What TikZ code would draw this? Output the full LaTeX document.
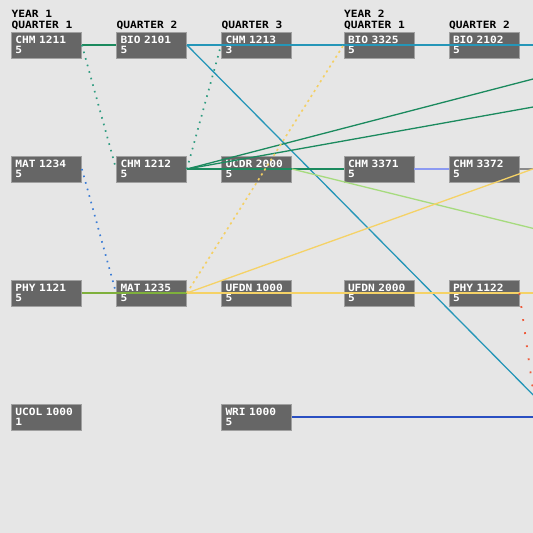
\documentclass[tikz,border=0pt]{standalone}
\usepackage{fontspec}
\newfontfamily\pixfont{DejaVu Sans Mono}[FakeStretch=1.12]
\definecolor{bggray}{HTML}{E6E6E6}
\definecolor{boxgray}{HTML}{666666}
\definecolor{boxedge}{HTML}{A0A0A0}
\definecolor{chemgreen}{HTML}{1B8A5E}
\definecolor{tealdot}{HTML}{2E9C80}
\definecolor{bioblue}{HTML}{2596B8}
\definecolor{peri}{HTML}{8C9AF2}
\definecolor{linegray}{HTML}{8A8A8A}
\definecolor{lime}{HTML}{A6DB7E}
\definecolor{bluedot}{HTML}{3A7CD6}
\definecolor{olive}{HTML}{7FB03C}
\definecolor{gold}{HTML}{F5D266}
\definecolor{golddot}{HTML}{F4CF62}
\definecolor{reddot}{HTML}{EE5A3A}
\definecolor{wriblue}{HTML}{2A4FC2}
\begin{document}
\begin{tikzpicture}[x=1pt,y=-1pt,
    course/.style={draw=boxedge,fill=boxgray,text=white,line width=0.8pt,
      font=\pixfont\bfseries\fontsize{10}{10.5}\selectfont,align=left,
      text width=62pt,inner xsep=4pt,inner ysep=0pt,minimum height=26pt},
    head/.style={font=\pixfont\bfseries\fontsize{10}{10.5}\selectfont,
      anchor=base west,inner sep=0pt},
    link/.style={line width=1.3pt},
    dotlink/.style={line width=1.7pt,dash pattern=on 1.6pt off 5.2pt},
    golddots/.style={golddot,line width=1.6pt,dash pattern=on 2.2pt off 3.6pt},
    reddots/.style={reddot,line width=1.8pt,dash pattern=on 1.8pt off 11.4pt}]
\useasboundingbox (0,0) rectangle (533,533);
\fill[bggray] (0,0) rectangle (533,533);
\clip (0,0) rectangle (533,533);
% headers
\node[head] (y1) at (11.5,17.5) {YEAR 1};
\node[head] (y1q1) at (11.5,28) {QUARTER 1};
\node[head] (y1q2) at (116.5,28) {QUARTER 2};
\node[head] (y1q3) at (221.5,28) {QUARTER 3};
\node[head] (y2) at (344,17.5) {YEAR 2};
\node[head] (y2q1) at (344,28) {QUARTER 1};
\node[head] (y2q2) at (449,28) {QUARTER 2};
% courses
\node[course] (chm1211) at (46.5,45) {CHM 1211\\5};
\node[course] (bio2101) at (151.5,45) {BIO 2101\\5};
\node[course] (chm1213) at (256.5,45) {CHM 1213\\3};
\node[course] (bio3325) at (379,45) {BIO 3325\\5};
\node[course] (bio2102) at (484,45) {BIO 2102\\5};
\node[course] (mat1234) at (46.5,169) {MAT 1234\\5};
\node[course] (chm1212) at (151.5,169) {CHM 1212\\5};
\node[course] (ucdr2000) at (256.5,169) {UCDR 2000\\5};
\node[course] (chm3371) at (379,169) {CHM 3371\\5};
\node[course] (chm3372) at (484,169) {CHM 3372\\5};
\node[course] (phy1121) at (46.5,293) {PHY 1121\\5};
\node[course] (mat1235) at (151.5,293) {MAT 1235\\5};
\node[course] (ufdn1000) at (256.5,293) {UFDN 1000\\5};
\node[course] (ufdn2000) at (379,293) {UFDN 2000\\5};
\node[course] (phy1122) at (484,293) {PHY 1122\\5};
\node[course] (ucol1000) at (46.5,417) {UCOL 1000\\1};
\node[course] (wri1000) at (256.5,417) {WRI 1000\\5};
% free ends beyond the right margin
\coordinate (bio-end) at (600,45);
\coordinate (diag-end) at (555,417);
\coordinate (grn-up) at (560,72);
\coordinate (grn-low) at (560,102.2);
\coordinate (gray-end) at (600,169);
\coordinate (lime-end) at (560,235);
\coordinate (gold-up) at (560,159.3);
\coordinate (gold-end) at (600,293);
\coordinate (red-end) at (540,440);
\coordinate (wri-end) at (600,417);
% prerequisites
\draw[link,chemgreen] (chm1211.east) -- (bio2101.west);
\draw[dotlink,tealdot] (chm1211.east) -- (chm1212.west);
\draw[dotlink,tealdot] (chm1212.east) -- (chm1213.west);
\draw[dotlink,bluedot] (mat1234.east) -- (mat1235.west);
\draw[link,olive] (phy1121.east) -- (phy1122.west);
\draw[link,bioblue] (bio2101.east) -- (bio-end);
\draw[link,bioblue] (bio2101.east) -- (diag-end);
\draw[link,chemgreen] (chm1212.east) -- (chm3371.west);
\draw[link,chemgreen] (chm1212.east) -- (grn-up);
\draw[link,chemgreen] (chm1212.east) -- (grn-low);
\draw[link,peri] (chm3371.east) -- (chm3372.west);
\draw[link,linegray] (chm3372.east) -- (gray-end);
\draw[link,lime] (ucdr2000.east) -- (lime-end);
\draw[golddots] (mat1235.east) -- (bio3325.west);
\draw[link,gold] (mat1235.east) -- (gold-up);
\draw[link,gold] (mat1235.east) -- (gold-end);
\draw[reddots] (phy1122.east) -- (red-end);
\draw[link,wriblue] (wri1000.east) -- (wri-end);
\end{tikzpicture}
\end{document}
